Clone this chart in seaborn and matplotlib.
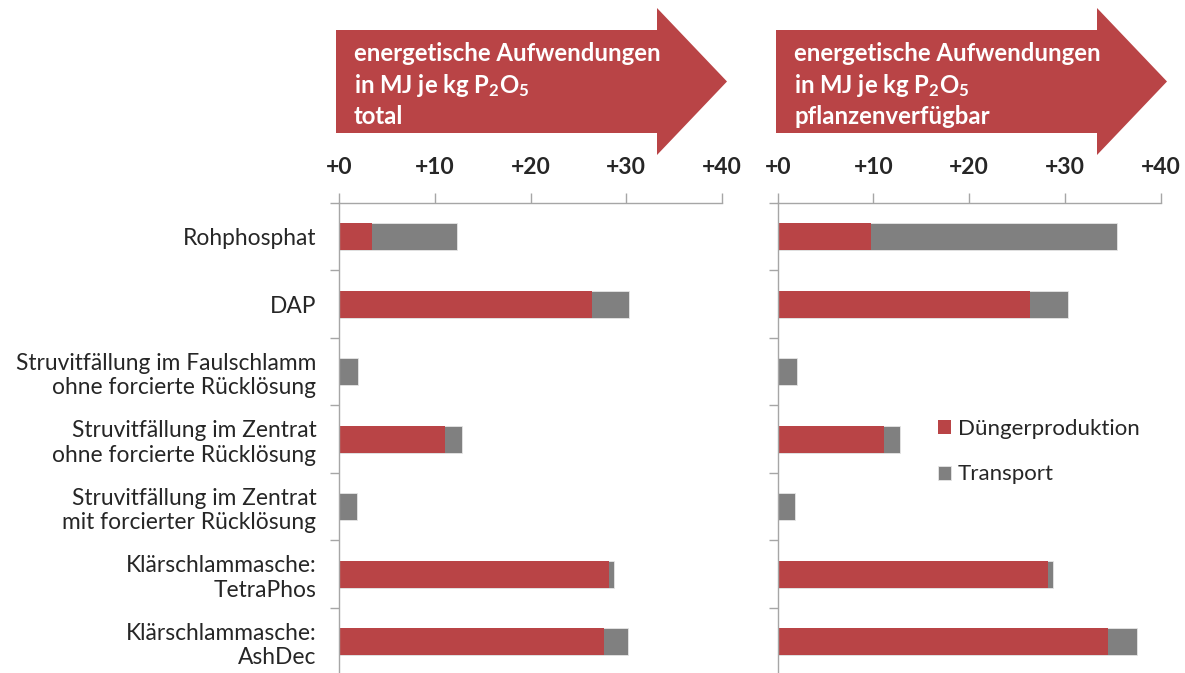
import matplotlib
matplotlib.use("Agg")
import matplotlib.pyplot as plt
import numpy as np
import pandas as pd
import seaborn as sns
from matplotlib.patches import Polygon

W, H = 1185, 673

CATEGORIES = [
    "Rohphosphat",
    "DAP",
    "Struvitfällung im Faulschlamm\nohne forcierte Rücklösung",
    "Struvitfällung im Zentrat\nohne forcierte Rücklösung",
    "Struvitfällung im Zentrat\nmit forcierter Rücklösung",
    "Klärschlammasche:\nTetraPhos",
    "Klärschlammasche:\nAshDec",
]

# MJ je kg P2O5 total
TOTAL_DUENGER = [3.4, 26.4, 0.0, 11.1, 0.0, 28.2, 27.7]
TOTAL_TRANSPORT = [8.95, 3.9, 2.0, 1.75, 1.8, 0.55, 2.45]

# MJ je kg P2O5 pflanzenverfügbar
PFL_DUENGER = [9.75, 26.35, 0.0, 11.1, 0.0, 28.2, 34.45]
PFL_TRANSPORT = [25.65, 4.0, 2.0, 1.7, 1.8, 0.5, 3.05]

X_TICKS = [0, 10, 20, 30, 40]
X_TICK_LABELS = ["+0", "+10", "+20", "+30", "+40"]

PANEL_TITLES = [
    "energetische Aufwendungen\nin MJ je kg P$_2$O$_5$\ntotal",
    "energetische Aufwendungen\nin MJ je kg P$_2$O$_5$\npflanzenverfügbar",
]

RED = "#B94446"
GRAY = "#808080"
AXIS_GRAY = "#A6A6A6"

sns.set_theme(style="white")
plt.rcParams["font.family"] = ["Lato", "DejaVu Sans"]
plt.rcParams["mathtext.default"] = "regular"


def px_box(x0, y_top, x1, y_bottom):
    return [x0 / W, 1 - y_bottom / H, (x1 - x0) / W, (y_bottom - y_top) / H]


def draw_panel(ax, duenger, transport, show_labels):
    df = pd.DataFrame({
        "kategorie": CATEGORIES,
        "duenger": duenger,
        "gesamt": np.array(duenger) + np.array(transport),
    })
    sns.barplot(data=df, x="gesamt", y="kategorie", color=GRAY, orient="h",
                width=0.4, ax=ax, label="Transport", saturation=1,
                edgecolor="#E6E6E6", linewidth=0.6)
    sns.barplot(data=df, x="duenger", y="kategorie", color=RED, orient="h",
                width=0.4, ax=ax, label="Düngerproduktion", saturation=1,
                edgecolor="none", linewidth=0)

    ax.set_xlim(0, 40)
    ax.set_ylim(6.5, -0.5)
    ax.set_xlabel("")
    ax.set_ylabel("")
    ax.xaxis.tick_top()
    ax.set_xticks(X_TICKS)
    ax.set_xticklabels(X_TICK_LABELS, fontsize=16.5, fontweight="bold")
    ax.tick_params(axis="x", direction="out", length=7, width=1,
                   color=AXIS_GRAY, pad=11, top=True, bottom=False)

    ax.set_yticks(range(len(CATEGORIES)))
    if show_labels:
        ax.set_yticklabels(CATEGORIES, fontsize=16.4)
    else:
        ax.set_yticklabels([])
    ax.set_yticks(np.arange(-0.5, len(CATEGORIES), 1.0), minor=True)
    ax.tick_params(axis="y", which="major", length=0, pad=16.5)
    ax.tick_params(axis="y", which="minor", direction="out", length=6.5,
                   width=1, color=AXIS_GRAY, left=True)
    for side in ["right", "bottom"]:
        ax.spines[side].set_visible(False)
    for side in ["left", "top"]:
        ax.spines[side].set_color(AXIS_GRAY)
        ax.spines[side].set_linewidth(1)
    if ax.get_legend() is not None:
        ax.get_legend().remove()


def draw_arrow(fig, x_off, title):
    pts_px = [(336, 30), (657, 30), (657, 8), (727, 81.5),
              (657, 155), (657, 133), (336, 133)]
    pts = [((x + x_off) / W, 1 - y / H) for x, y in pts_px]
    fig.add_artist(Polygon(pts, closed=True, transform=fig.transFigure,
                           facecolor=RED, edgecolor="none"))
    fig.text((354 + x_off) / W, 1 - 85 / H, title, color="white",
             fontsize=17.2, fontweight="bold", ha="left", va="center",
             linespacing=1.33)


fig = plt.figure(figsize=(W / 100, H / 100), dpi=100)
ax_left = fig.add_axes(px_box(339.3, 202.7, 721.7, 675.5))
ax_right = fig.add_axes(px_box(777.7, 202.7, 1160.7, 675.5))

draw_panel(ax_left, TOTAL_DUENGER, TOTAL_TRANSPORT, show_labels=True)
draw_panel(ax_right, PFL_DUENGER, PFL_TRANSPORT, show_labels=False)

draw_arrow(fig, 0, PANEL_TITLES[0])
draw_arrow(fig, 440, PANEL_TITLES[1])

handles, labels = ax_right.get_legend_handles_labels()
order = [labels.index("Düngerproduktion"), labels.index("Transport")]
fig.legend([handles[i] for i in order], [labels[i] for i in order],
           loc="upper left", bbox_to_anchor=(929 / W, 1 - 410 / H),
           frameon=False, fontsize=16, handlelength=0.6, handleheight=0.6,
           handletextpad=0.3, labelspacing=1.15, borderaxespad=0)

fig.savefig("out.png", dpi=100)
